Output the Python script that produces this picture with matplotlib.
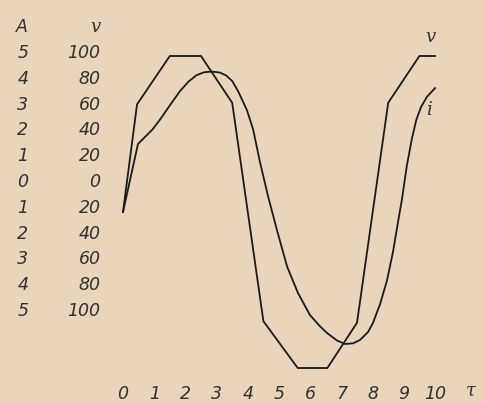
import matplotlib
matplotlib.use("Agg")
import matplotlib.pyplot as plt

# voltage (V) — trapezoid-like wave
t_v = [0, 0.45, 1.5, 2.5, 3.5, 4.5, 5.6, 6.55, 7.5, 8.5, 9.5, 10.0]
volt = [0, 69, 100, 100, 70, -70, -100, -100, -71, 70, 100, 100]

# current (A)
t_i = [0, 0.48, 0.7, 0.95, 1.2, 1.51, 1.83, 2.1, 2.35, 2.6, 2.85, 3.1, 3.3, 3.5,
       3.7, 3.97, 4.17, 4.39, 4.65, 4.94, 5.26, 5.61, 5.99, 6.3, 6.54, 6.86, 7.12,
       7.37, 7.6, 7.85, 8.01, 8.24, 8.46, 8.65, 8.81, 8.94, 9.1, 9.26, 9.4, 9.55,
       9.74, 10.0]
amp = [0, 2.18, 2.4, 2.65, 2.98, 3.43, 3.88, 4.18, 4.38, 4.48, 4.5, 4.47, 4.38, 4.2,
       3.85, 3.27, 2.65, 1.6, 0.5, -0.6, -1.75, -2.6, -3.3, -3.65, -3.88, -4.12, -4.23,
       -4.21, -4.1, -3.85, -3.56, -2.95, -2.2, -1.3, -0.35, 0.4, 1.5, 2.35, 2.95, 3.36,
       3.69, 3.97]

x_ticks = list(range(11))
x_labels = [str(k) for k in x_ticks]
v_ticks = [120, 100, 80, 60, 40, 20, 0, -20, -40, -60, -80, -100]
v_labels = ["v", "100", "80", "60", "40", "20", "0", "20", "40", "60", "80", "100"]
a_ticks = [6, 5, 4, 3, 2, 1, 0, -1, -2, -3, -4, -5]
a_labels = ["A", "5", "4", "3", "2", "1", "0", "1", "2", "3", "4", "5"]

W, H = 484, 403
bg = "#e8d5bc"
ink = "#1b1a18"
txt = "#35312c"

fig = plt.figure(figsize=(W / 100, H / 100), dpi=100, facecolor=bg)

# curve frame: t=0 at px 123, 31.2 px per unit; v=0 at px 212 from top, 1.56 px per volt
xlim = (-0.5, 11.5)
ylim = (-122, 125)
x0, sx = 123, 31.2
y0, sy = 212, 1.56
left = x0 + xlim[0] * sx
right = x0 + xlim[1] * sx
top = y0 - ylim[1] * sy
bot = y0 - ylim[0] * sy
rect = [left / W, (H - bot) / H, (right - left) / W, (bot - top) / H]

# the printed scale column sits higher and tighter than the curves
ly0, lsy = 180, 25.8 / 20
lab_ylim = ((ly0 - bot) / lsy, (ly0 - top) / lsy)

tfont = dict(family="DejaVu Sans", style="oblique", size=12.5, color=txt)
sfont = dict(family="DejaVu Serif", style="italic", size=13, color=txt)

axl = fig.add_axes(rect)
axl.set_facecolor("none")
axl.set_ylim(*lab_ylim)
axl.set_yticks(v_ticks)
axl.set_yticklabels(v_labels, **tfont)
axl.get_yticklabels()[0].set(**sfont)
axl.tick_params(axis="y", length=0, pad=5)
axl.set_xticks([])

axa = axl.twinx()
axa.set_ylim(lab_ylim[0] / 20, lab_ylim[1] / 20)
axa.yaxis.tick_left()
axa.set_yticks(a_ticks)
axa.set_yticklabels(a_labels, **tfont)
axa.tick_params(axis="y", length=0, pad=57)

ax = fig.add_axes(rect)
ax.set_facecolor("none")
ax.set_xlim(*xlim)
ax.set_ylim(*ylim)
ax.plot(t_v, volt, color=ink, lw=1.3, solid_joinstyle="miter")
ax.set_yticks([])

axc = ax.twinx()
axc.set_ylim(ylim[0] / 20, ylim[1] / 20)
axc.plot(t_i, amp, color=ink, lw=1.3)
axc.set_yticks([])

for a in (axl, axa, ax, axc):
    for s in a.spines.values():
        s.set_visible(False)

ax.spines["bottom"].set_position(("data", -111))
ax.set_xticks(x_ticks)
ax.set_xticklabels(x_labels, **tfont)
ax.tick_params(axis="x", length=0, pad=0)

ax.set_xlabel("τ", **sfont)
ax.xaxis.set_label_coords((471 - left) / (right - left), (bot - 391) / (bot - top))
ax.xaxis.label.set_va("center")

ax.annotate("v", (t_v[-1], volt[-1]), xytext=(-3, 14), textcoords="offset points",
            ha="center", va="center", **sfont)
axc.annotate("i", (t_i[-1], amp[-1]), xytext=(-4, -16), textcoords="offset points",
             ha="center", va="center", **sfont)

fig.savefig("out.png", dpi=100, facecolor=bg)
